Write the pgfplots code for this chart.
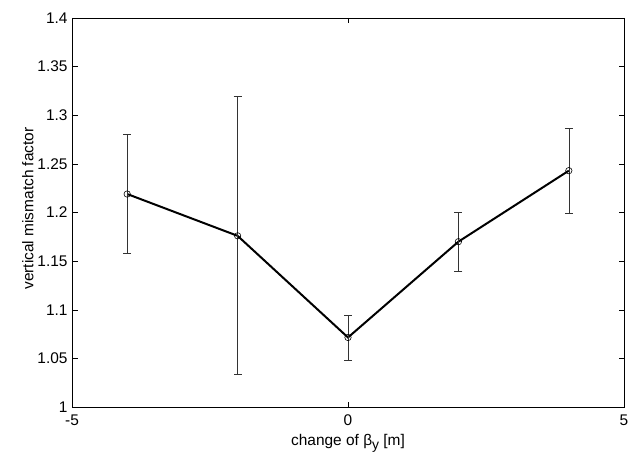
\documentclass[border=0pt]{standalone}
\usepackage{fontspec}
\setmainfont{Liberation Sans}
\usepackage{pgfplots}
\pgfplotsset{compat=1.18}
\begin{document}
\begin{tikzpicture}
\begin{axis}[
  scale only axis,
  width=552bp, height=389bp,
  xmin=-5, xmax=5, ymin=1, ymax=1.4,
  xtick={-5,0,5},
  ytick={1,1.05,...,1.4},
  tick align=inside,
  major tick length=5.5bp,
  axis line style={line width=0.9pt},
  tick style={line width=0.5pt, black},
  /pgf/number format/assume math mode=true,
  /pgf/number format/fixed,
  /pgf/number format/precision=2,
  ticklabel style={font=\fontsize{15.5}{18}\selectfont},
  label style={font=\fontsize{15.5}{18}\selectfont},
  xlabel={change of β\raisebox{-4.5bp}{\fontsize{14}{16}\selectfont y} [m]},
  ylabel={vertical mismatch factor},
  xlabel style={yshift=-2bp},
  ylabel style={yshift=-3bp, xshift=4bp},
  yticklabel style={xshift=-1bp},
  xticklabel style={yshift=-4bp},
]
\addplot[black, line width=2pt, mark=o, mark size=3.2bp,
  mark options={line width=0.6pt, solid},
  error bars/.cd, y dir=both, y explicit,
  error bar style={line width=0.6pt, black!80},
  error mark options={rotate=90, mark size=4bp, line width=0.6pt}]
  table[x=x, y=y, y error plus=ep, y error minus=em] {
x   y      ep     em
-4  1.219  0.061  0.061
-2  1.176  0.143  0.1425
0   1.0715 0.0225 0.0235
2   1.170  0.030  0.030
4   1.243  0.044  0.044
};
\end{axis}
\pgfresetboundingbox
\path[use as bounding box] (current axis.south west) ++(-72bp,-52bp) rectangle ++(635bp,459bp);
\end{tikzpicture}
\end{document}
